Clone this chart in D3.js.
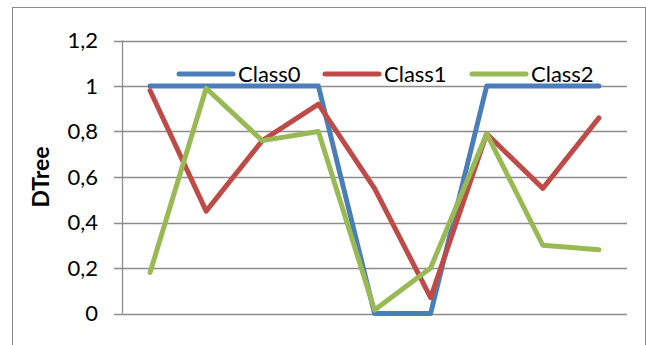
<!DOCTYPE html>
<html>
<head>
<meta charset="utf-8">
<script src="https://cdn.jsdelivr.net/npm/d3@7"></script>
<style>
    body { margin: 0; background: #fff; }
    text { font-family: Lato, "Open Sans", sans-serif; fill: #000; }
</style>
</head>
<body>
<svg id="chart" width="646" height="345"></svg>
<script>
"use strict";

// data
const categories = ["1", "2", "3", "4", "5", "6", "7", "8", "9"];
const seriesNames = ["Class0", "Class1", "Class2"];
const class0 = [1, 1, 1, 1, 0, 0, 1, 1, 1];
const class1 = [0.98, 0.45, 0.76, 0.92, 0.55, 0.07, 0.79, 0.55, 0.86];
const class2 = [0.18, 0.99, 0.76, 0.80, 0.015, 0.2, 0.79, 0.30, 0.28];
const yTicks = [0, 0.2, 0.4, 0.6, 0.8, 1, 1.2];
const colors = ["#4a7ebb", "#be4b48", "#98b954"];

const series = [class0, class1, class2];

// layout
const plot = { left: 122, right: 627, top: 40.5, bottom: 313.5 };

let svg = d3.select("#chart");

// outer border
svg.append("rect")
.attr("x", 12.5)
.attr("y", 7.5)
.attr("width", 633)
.attr("height", 345)
.attr("fill", "none")
.attr("stroke", "#8c8c8c")
.attr("stroke-width", 1);

// scales
let scaleX = d3.scaleBand()
.domain(categories)
.range([plot.left, plot.right]);

let scaleY = d3.scaleLinear()
.domain([0, 1.2])
.range([plot.bottom, plot.top]);

const fmt = d => d3.format(".1~f")(d).replace(".", ",");

// grid lines
svg.append("g")
.attr("class", "yGrid")
.selectAll("line")
.data(yTicks)
.join("line")
.attr("x1", plot.left - 8)
.attr("x2", plot.right)
.attr("y1", d => Math.round(scaleY(d)) + 0.5)
.attr("y2", d => Math.round(scaleY(d)) + 0.5)
.attr("stroke", "#8c8c8c")
.attr("stroke-width", 1.3);

// y axis line
svg.append("line")
.attr("x1", plot.left + 0.5)
.attr("x2", plot.left + 0.5)
.attr("y1", scaleY(1.2))
.attr("y2", scaleY(0))
.attr("stroke", "#8c8c8c")
.attr("stroke-width", 1.3);

// tick labels
svg.append("g")
.attr("class", "y_axis")
.selectAll("text")
.data(yTicks)
.join("text")
.attr("x", 98)
.attr("y", d => scaleY(d))
.attr("dy", "0.35em")
.attr("text-anchor", "end")
.attr("font-size", 22)
.text(fmt);

// y label
svg.append("text")
.attr("transform", `translate(49, 177) rotate(-90)`)
.attr("text-anchor", "middle")
.attr("font-size", 23)
.attr("font-weight", "bold")
.text("DTree");

// lines
let line = d3.line()
.x((d, i) => scaleX(categories[i]) + scaleX.bandwidth() / 2)
.y(d => scaleY(d));

svg.append("g")
.attr("class", "lines")
.selectAll("path")
.data(series)
.join("path")
.attr("d", d => line(d))
.attr("fill", "none")
.attr("stroke", (d, i) => colors[i])
.attr("stroke-width", 5)
.attr("stroke-linejoin", "round")
.attr("stroke-linecap", "round");

// legend
const legendX = [179, 325, 472];
let legend = svg.append("g")
.attr("class", "legend")
.selectAll("g")
.data(seriesNames)
.join("g")
.attr("transform", (d, i) => `translate(${legendX[i]}, 74)`);

legend.append("line")
.attr("x1", 0)
.attr("x2", 54)
.attr("y1", 0)
.attr("y2", 0)
.attr("stroke", (d, i) => colors[i])
.attr("stroke-width", 5)
.attr("stroke-linecap", "round");

legend.append("text")
.attr("x", 59)
.attr("y", 0)
.attr("dy", "0.35em")
.attr("font-size", 22)
.text(d => d);
</script>
</body>
</html>
